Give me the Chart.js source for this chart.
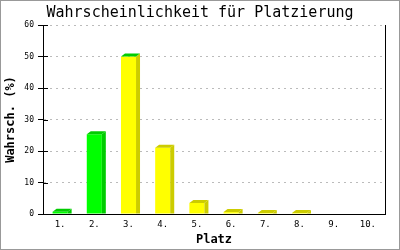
<!DOCTYPE html>
<html>
<head>
<meta charset="utf-8">
<script src="https://cdn.jsdelivr.net/npm/chart.js@4/dist/chart.umd.min.js"></script>
<style>
  body { margin: 0; background: #fff; }
  #wrap { width: 400px; height: 250px; }
</style>
</head>
<body>
<div id="wrap"><canvas id="platzChart" width="400" height="250"></canvas></div>
<script>
// data
const places = ["1.","2.","3.","4.","5.","6.","7.","8.","9.","10."];
const chances = [0.7, 25.3, 50.0, 21.0, 3.5, 0.6, 0.3, 0.3, 0, 0];
const yTicks = [0, 10, 20, 30, 40, 50, 60];

// colours per bar: front, side, top
const front = ["#00ff00","#00ff00","#ffff00","#ffff00","#ffff00","#ffff00","#ffff00","#ffff00","#ffff00","#ffff00"];
const side  = ["#00cc00","#00cc00","#cccc00","#cccc00","#cccc00","#cccc00","#cccc00","#cccc00","#cccc00","#cccc00"];
const top3d = ["#00cc00","#00cc00","#00cc00","#cccc00","#cccc00","#cccc00","#cccc00","#cccc00","#cccc00","#cccc00"];

const mono = "'DejaVu Sans Mono', 'Liberation Mono', monospace";

// fake 3d faces + frame details
const extras = {
  id: "extras",
  beforeDraw(chart) {
    const c = chart.ctx;
    c.save();
    c.fillStyle = "#fff";
    c.fillRect(0, 0, chart.width, chart.height);
    c.restore();
  },
  afterDatasetsDraw(chart) {
    const c = chart.ctx;
    const dx = 4, dy = 3;
    chart.getDatasetMeta(0).data.forEach((bar, i) => {
      if (!chances[i]) return;
      const l = bar.x - bar.width / 2, r = bar.x + bar.width / 2;
      const y = bar.y, b = bar.base;
      c.save();
      c.fillStyle = side[i];
      c.beginPath();
      c.moveTo(r, y); c.lineTo(r + dx, y - dy); c.lineTo(r + dx, b); c.lineTo(r, b);
      c.closePath(); c.fill();
      c.fillStyle = top3d[i];
      c.beginPath();
      c.moveTo(l, y); c.lineTo(l + dx, y - dy); c.lineTo(r + dx, y - dy); c.lineTo(r, y);
      c.closePath(); c.fill();
      c.restore();
    });
  },
  afterDraw(chart) {
    const c = chart.ctx, a = chart.chartArea, ys = chart.scales.y;
    c.save();
    c.strokeStyle = "#000";
    c.lineWidth = 1;
    // right frame line
    c.beginPath();
    c.moveTo(Math.round(a.right) + 0.5, a.top);
    c.lineTo(Math.round(a.right) + 0.5, a.bottom);
    c.stroke();
    // inner part of the y ticks
    yTicks.forEach(v => {
      const py = Math.round(ys.getPixelForValue(v)) + 0.5;
      c.beginPath();
      c.moveTo(a.left, py); c.lineTo(a.left + 5, py);
      c.stroke();
    });
    // bottom axis on top of everything
    c.beginPath();
    c.moveTo(a.left, Math.round(a.bottom) + 0.5);
    c.lineTo(a.right + 1, Math.round(a.bottom) + 0.5);
    c.stroke();
    // outer gray frame
    c.strokeStyle = "#999";
    c.strokeRect(0.5, 0.5, chart.width - 1, chart.height - 1);
    c.restore();
  }
};

new Chart(document.getElementById("platzChart"), {
  type: "bar",
  data: {
    labels: places,
    datasets: [{
      data: chances,
      backgroundColor: front,
      borderWidth: 0,
      categoryPercentage: 1,
      barPercentage: 0.44
    }]
  },
  options: {
    responsive: false,
    animation: false,
    layout: { padding: 0 },
    plugins: {
      legend: { display: false },
      tooltip: { enabled: false },
      title: {
        display: true,
        text: "Wahrscheinlichkeit für Platzierung",
        color: "#000",
        font: { family: mono, size: 15, weight: "normal" },
        padding: { top: 4, bottom: 3 }
      }
    },
    scales: {
      x: {
        grid: { display: false, drawTicks: false, tickLength: 0 },
        border: { color: "#000", width: 1, z: 1 },
        ticks: { color: "#000", font: { family: mono, size: 9 }, padding: 5, maxRotation: 0 },
        title: {
          display: true, text: "Platz", color: "#000",
          font: { family: mono, size: 12, weight: "bold" },
          padding: { top: 0, bottom: 3 }
        },
        afterFit(s) { s.height = 36; }
      },
      y: {
        min: 0, max: 60,
        afterBuildTicks(s) { s.ticks = yTicks.map(v => ({ value: v })); },
        grid: { color: "#bbb", tickColor: "#000", tickLength: 5, lineWidth: 1 },
        border: { color: "#000", width: 1, dash: [2, 4] },
        ticks: { color: "#000", font: { family: mono, size: 8 }, padding: 4 },
        title: {
          display: true, text: "Wahrsch. (%)", color: "#000",
          font: { family: mono, size: 12, weight: "bold" },
          padding: { top: 4, bottom: 0 }
        },
        afterFit(s) { s.width = 43; }
      },
      // empty right margin so the title centres on the whole picture
      yRight: {
        position: "right",
        min: 0, max: 60,
        grid: { display: false, drawTicks: false },
        border: { display: false },
        ticks: { display: false },
        afterFit(s) { s.width = 15; }
      }
    }
  },
  plugins: [extras]
});
</script>
</body>
</html>
